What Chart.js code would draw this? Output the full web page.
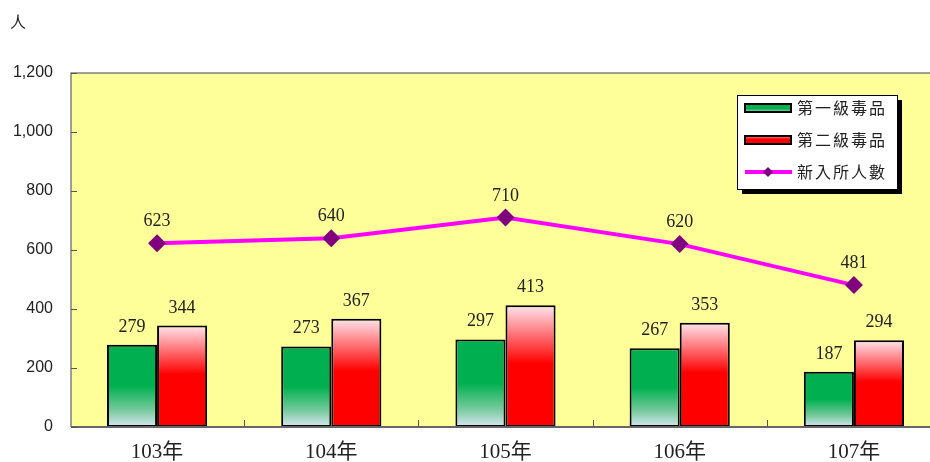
<!DOCTYPE html>
<html>
<head>
<meta charset="utf-8">
<script src="https://cdn.jsdelivr.net/npm/chart.js@4"></script>
<style>
  html, body { margin: 0; padding: 0; background: #fff; overflow: hidden; }
  #grafico { display: block; }
</style>
</head>
<body>
<canvas id="grafico" width="930" height="462"></canvas>
<script>
const categorias = ['103年', '104年', '105年', '106年', '107年'];
const primeiroNivel = [279, 273, 297, 267, 187];
const segundoNivel = [344, 367, 413, 353, 294];
const novosInternos = [623, 640, 710, 620, 481];
const yTicks = [0, 200, 400, 600, 800, 1000, 1200];

const serif = '"Liberation Serif", "Times New Roman", "Noto Sans CJK TC", serif';
const cjk = '"Noto Sans CJK TC", "Liberation Serif", serif';

// pontos {x: índice da categoria, y: valor}
const pontos = (arr) => arr.map((v, i) => ({ x: i, y: v }));

function barGradient(context, stops) {
    const chart = context.chart;
    if (!chart.chartArea || !chart.scales.y || !context.parsed) return stops[0][1];
    const top = chart.scales.y.getPixelForValue(context.parsed.y);
    const bottom = chart.scales.y.getPixelForValue(0);
    const g = chart.ctx.createLinearGradient(0, top, 0, bottom);
    stops.forEach(s => g.addColorStop(s[0], s[1]));
    return g;
}

const verdeStops = [[0, '#00B050'], [0.5, '#00B050'], [0.78, '#70C898'], [1, '#D8E6F2']];
const vermelhoStops = [[0, '#FFE6EE'], [0.48, '#FF0000'], [1, '#FF0000']];

const rotulos = {
    id: 'rotulos',
    afterDatasetsDraw(chart) {
        const ctx = chart.ctx;
        ctx.save();
        ctx.fillStyle = '#222';
        ctx.font = '18px ' + serif;
        ctx.textAlign = 'center';
        ctx.textBaseline = 'alphabetic';
        chart.data.datasets.forEach((ds, i) => {
            const meta = chart.getDatasetMeta(i);
            meta.data.forEach((el, j) => {
                const off = ds.type === 'line' ? 17 : 13;
                ctx.fillText(String(meta.controller.getParsed(j).y), el.x, el.y - off);
            });
        });
        ctx.restore();
    }
};

const moldura = {
    id: 'moldura',
    beforeDraw(chart) {
        const { ctx, chartArea } = chart;
        ctx.save();
        // o fundo amarelo vai até a borda direita da imagem
        ctx.fillStyle = '#FFFF99';
        ctx.fillRect(chartArea.left, chartArea.top, chart.width - chartArea.left, chartArea.bottom - chartArea.top);
        ctx.restore();
    },
    afterDraw(chart) {
        const { ctx, chartArea, scales } = chart;
        ctx.save();
        // borda superior e esquerda
        ctx.strokeStyle = '#808080';
        ctx.lineWidth = 1.5;
        ctx.beginPath();
        ctx.moveTo(chartArea.left, chartArea.bottom);
        ctx.lineTo(chartArea.left, chartArea.top);
        ctx.lineTo(chart.width, chartArea.top);
        ctx.stroke();
        // eixo inferior
        ctx.strokeStyle = '#666';
        ctx.lineWidth = 2;
        ctx.beginPath();
        ctx.moveTo(chartArea.left, chartArea.bottom);
        ctx.lineTo(chart.width, chartArea.bottom);
        ctx.stroke();
        // marcas internas
        ctx.strokeStyle = '#555';
        ctx.lineWidth = 1;
        ctx.beginPath();
        scales.y.ticks.forEach((t, i) => {
            const y = Math.round(scales.y.getPixelForTick(i)) + 0.5;
            ctx.moveTo(chartArea.left, y);
            ctx.lineTo(chartArea.left + 6, y);
        });
        for (let i = 1; i < categorias.length; i++) {
            const x = Math.round(scales.x.getPixelForValue(i - 0.5)) + 0.5;
            ctx.moveTo(x, chartArea.bottom);
            ctx.lineTo(x, chartArea.bottom - 7);
        }
        ctx.stroke();

        // unidade
        ctx.fillStyle = '#222';
        ctx.font = '16px ' + cjk;
        ctx.textAlign = 'left';
        ctx.textBaseline = 'middle';
        ctx.fillText('人', 10, 22);

        // legenda
        const lx = 737, ly = 95, lw = 160, lh = 94;
        ctx.fillStyle = '#000';
        ctx.fillRect(lx + 5, ly + 5, lw, lh);
        ctx.fillStyle = '#fff';
        ctx.fillRect(lx, ly, lw, lh);
        ctx.strokeStyle = '#000';
        ctx.lineWidth = 1;
        ctx.strokeRect(lx + 0.5, ly + 0.5, lw, lh);

        const linhas = [108, 140, 172];
        chart.data.datasets.forEach((ds, i) => {
            const y = linhas[i];
            if (ds.type === 'line') {
                ctx.strokeStyle = '#FF00FF';
                ctx.lineWidth = 4;
                ctx.beginPath();
                ctx.moveTo(745, y);
                ctx.lineTo(792, y);
                ctx.stroke();
                ctx.fillStyle = '#800080';
                ctx.beginPath();
                ctx.moveTo(768, y - 5);
                ctx.lineTo(773, y);
                ctx.lineTo(768, y + 5);
                ctx.lineTo(763, y);
                ctx.closePath();
                ctx.fill();
            } else {
                const g = ctx.createLinearGradient(0, y - 4, 0, y + 4);
                if (i === 0) {
                    g.addColorStop(0, '#00B050'); g.addColorStop(0.6, '#00B050'); g.addColorStop(1, '#A8DCC0');
                } else {
                    g.addColorStop(0, '#FF9090'); g.addColorStop(0.4, '#FF0000'); g.addColorStop(1, '#FF0000');
                }
                ctx.fillStyle = g;
                ctx.fillRect(745, y - 4, 46, 8);
                ctx.strokeStyle = '#000';
                ctx.lineWidth = 2;
                ctx.strokeRect(745, y - 4, 46, 8);
            }
            ctx.fillStyle = '#222';
            ctx.font = '16px ' + cjk;
            ctx.letterSpacing = '2px';
            ctx.textAlign = 'left';
            ctx.textBaseline = 'middle';
            ctx.fillText(ds.label, 797, y);
            ctx.letterSpacing = '0px';
        });
        ctx.restore();
    }
};

const canvasContext = document.getElementById('grafico').getContext('2d');
new Chart(canvasContext, {
    data: {
        datasets: [
            {
                type: 'bar',
                label: '第一級毒品',
                data: pontos(primeiroNivel),
                backgroundColor: (c) => barGradient(c, verdeStops),
                borderColor: '#000',
                borderWidth: 2,
                borderSkipped: false,
                order: 1
            },
            {
                type: 'bar',
                label: '第二級毒品',
                data: pontos(segundoNivel),
                backgroundColor: (c) => barGradient(c, vermelhoStops),
                borderColor: '#000',
                borderWidth: 2,
                borderSkipped: false,
                order: 1
            },
            {
                type: 'line',
                label: '新入所人數',
                data: pontos(novosInternos),
                borderColor: '#FF00FF',
                borderWidth: 4,
                pointStyle: 'rectRot',
                pointRadius: 9,
                pointBackgroundColor: '#800080',
                pointBorderColor: '#800080',
                pointBorderWidth: 0,
                tension: 0,
                order: 0
            }
        ]
    },
    options: {
        responsive: false,
        animation: false,
        datasets: {
            bar: { categoryPercentage: 0.575, barPercentage: 1 }
        },
        layout: { padding: { top: 73, right: 0, left: 0, bottom: 0 } },
        plugins: {
            legend: { display: false },
            tooltip: { enabled: false }
        },
        scales: {
            x: {
                type: 'linear',
                offset: false,
                // o eixo original continua além da borda direita da imagem
                min: -0.494,
                max: 4.385,
                afterBuildTicks: (scale) => { scale.ticks = categorias.map((c, i) => ({ value: i })); },
                grid: { display: false, drawTicks: false },
                border: { display: false },
                ticks: {
                    color: '#222',
                    padding: 13,
                    autoSkip: false,
                    maxRotation: 0,
                    font: { size: 21, family: serif },
                    callback: (v) => categorias[v]
                },
                afterFit: (scale) => { scale.height = 35; }
            },
            y: {
                min: 0,
                max: 1200,
                afterBuildTicks: (scale) => { scale.ticks = yTicks.map(v => ({ value: v })); },
                grid: { display: false, drawTicks: false },
                border: { display: false },
                ticks: {
                    color: '#222',
                    padding: 18,
                    font: { size: 16, family: '"Liberation Sans", Arial, sans-serif' },
                    callback: (v) => v.toLocaleString('en-US')
                },
                afterFit: (scale) => { scale.width = 71; }
            }
        }
    },
    plugins: [moldura, rotulos]
});
</script>
</body>
</html>
